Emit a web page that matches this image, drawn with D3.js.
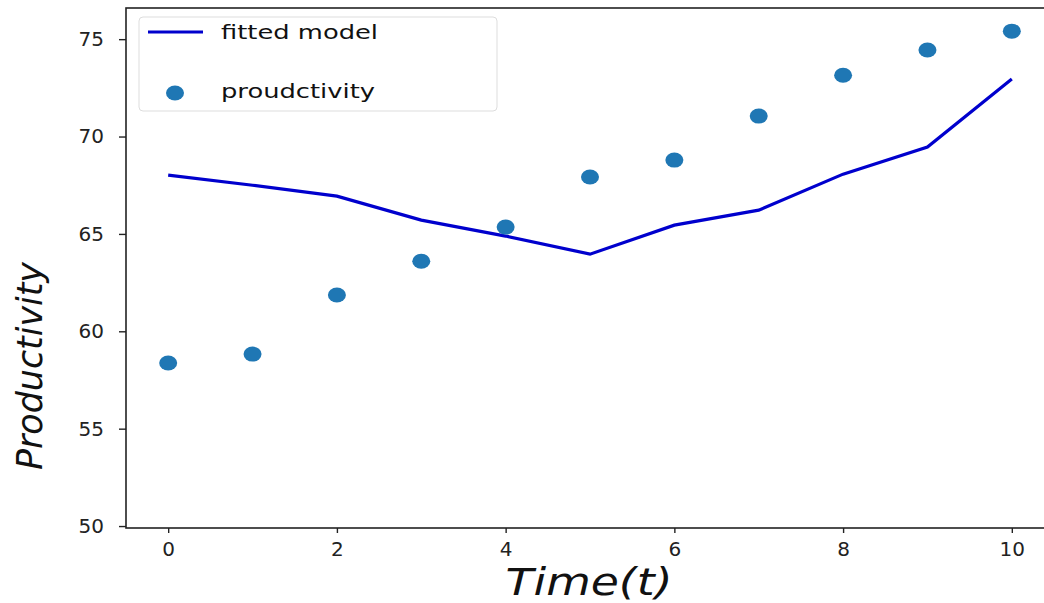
<!DOCTYPE html>
<html lang="en">
<head>
    <meta charset="UTF-8">
    <title>Productivity over time</title>
    <script src="https://d3js.org/d3.v7.min.js"></script>
    <style>
        body { margin: 0; background: #fff; }
        svg { display: block; font-family: "DejaVu Sans", sans-serif; }
    </style>
</head>
<body>
    <div id="chart"></div>
    <script>
        // values
        const time = [0, 1, 2, 3, 4, 5, 6, 7, 8, 9, 10];
        const productivity = [58.37, 58.83, 61.86, 63.6, 65.35, 67.92, 68.79, 71.05, 73.15, 74.44, 75.41];
        const fitted = [68.02, 67.5, 66.94, 65.71, 64.89, 63.96, 65.45, 66.22, 68.07, 69.46, 72.95];
        const xTicks = [0, 2, 4, 6, 8, 10];
        const yTicks = [50, 55, 60, 65, 70, 75];

        const width = 1044, height = 603;
        const plotLeft = 126, plotRight = 1054, plotTop = 8, plotBottom = 528;

        const svg = d3.select("#chart").append("svg")
            .attr("width", width)
            .attr("height", height);

        const x = d3.scaleLinear().domain([-0.5, 10.5]).range([plotLeft, plotRight]);
        const y = d3.scaleLinear().domain([49.9, 76.6]).range([plotBottom, plotTop]);

        // frame
        svg.append("rect")
            .attr("x", plotLeft).attr("y", plotTop)
            .attr("width", plotRight - plotLeft).attr("height", plotBottom - plotTop)
            .attr("fill", "none")
            .attr("stroke", "#222")
            .attr("stroke-width", 1.6);

        const xAxis = svg.append("g")
            .attr("transform", `translate(0,${plotBottom})`)
            .call(d3.axisBottom(x).tickValues(xTicks).tickSize(5).tickPadding(9).tickFormat(d3.format("d")));
        const yAxis = svg.append("g")
            .attr("transform", `translate(${plotLeft},0)`)
            .call(d3.axisLeft(y).tickValues(yTicks).tickSize(7).tickPadding(15).tickFormat(d3.format("d")));
        [xAxis, yAxis].forEach(g => {
            g.select(".domain").remove();
            g.selectAll(".tick line").attr("stroke", "#222").attr("stroke-width", 1.4);
            g.selectAll(".tick text")
                .attr("fill", "#222")
                .style("font-size", "20px")
                .style("font-family", "DejaVu Sans");
        });

        // fitted model line
        const line = d3.line().x((d, i) => x(time[i])).y(d => y(d));
        svg.append("path")
            .datum(fitted)
            .attr("d", line)
            .attr("fill", "none")
            .attr("stroke", "#0000cd")
            .attr("stroke-width", 3.2);

        // scatter
        svg.append("g")
            .selectAll("ellipse")
            .data(productivity)
            .join("ellipse")
            .attr("cx", (d, i) => x(time[i]))
            .attr("cy", d => y(d))
            .attr("rx", 9)
            .attr("ry", 7.5)
            .attr("fill", "#1f77b4");

        // axis labels
        svg.append("text")
            .attr("x", 589)
            .attr("y", 595)
            .attr("text-anchor", "middle")
            .attr("textLength", 167)
            .attr("lengthAdjust", "spacingAndGlyphs")
            .style("font-size", "37px")
            .style("font-style", "italic")
            .attr("fill", "#111")
            .text("Time(t)");

        svg.append("text")
            .attr("transform", "translate(42,366) rotate(-90)")
            .attr("text-anchor", "middle")
            .attr("textLength", 208)
            .attr("lengthAdjust", "spacingAndGlyphs")
            .style("font-size", "35px")
            .style("font-style", "italic")
            .attr("fill", "#111")
            .text("Productivity");

        // legend
        const legend = svg.append("g");
        legend.append("rect")
            .attr("x", 139).attr("y", 17)
            .attr("width", 358).attr("height", 94)
            .attr("rx", 4)
            .attr("fill", "#fff")
            .attr("fill-opacity", 0.8)
            .attr("stroke", "#ddd");
        legend.append("line")
            .attr("x1", 148).attr("x2", 203)
            .attr("y1", 32).attr("y2", 32)
            .attr("stroke", "#0000cd")
            .attr("stroke-width", 3.2);
        legend.append("ellipse")
            .attr("cx", 175).attr("cy", 93)
            .attr("rx", 9).attr("ry", 7.5)
            .attr("fill", "#1f77b4");
        legend.selectAll("text.lab")
            .data([["fitted model", 157], ["proudctivity", 154]])
            .join("text")
            .attr("class", "lab")
            .attr("x", 221)
            .attr("y", (d, i) => i === 0 ? 39 : 98)
            .attr("textLength", d => d[1])
            .attr("lengthAdjust", "spacingAndGlyphs")
            .style("font-size", "20px")
            .attr("fill", "#111")
            .text(d => d[0]);
    </script>
</body>
</html>
